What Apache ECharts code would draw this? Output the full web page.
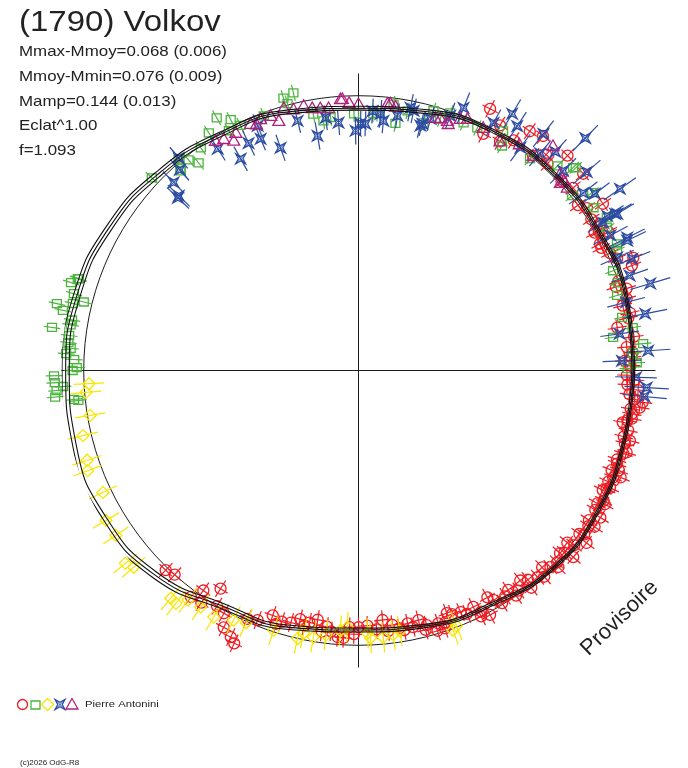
<!DOCTYPE html>
<html><head><meta charset="utf-8">
<script src="https://cdn.jsdelivr.net/npm/echarts@6/dist/echarts.min.js"></script>
<style>html,body{margin:0;padding:0;background:#fff}#c{width:688px;height:768px}</style>
</head><body><div id="c"></div><script>
// ---- data: [phase angle (deg, CCW from right), relative radius, radial error] ----
const red = [[226,1.0,.035],[228,0.99,.035],[234.8,0.97,.035],[237.7,0.93,.035],[233.5,1.015,.035],[235.9,1.01,.035],[242.3,1.045,.035],[244.4,1.065,.035],[245.5,1.08,.035],[245.9,0.98,.035],[248,0.97,.035],[250.7,0.935,.035],[253,0.946,.035],[256.8,0.92,.035],[260.7,0.91,.035],[263,0.93,.035],[265.5,0.963,.035],[266.8,0.965,.035],[268,0.925,.035],[270,0.925,.035],[275.5,0.903,.035],[277.6,0.925,.035],[281,0.928,.035],[283.5,0.925,.035],[286.9,0.98,.035],[288.5,0.98,.035],[291,0.94,.035],[290,0.93,.035],[292.9,0.945,.035],[295.9,0.947,.035],[299.6,0.94,.035],[298.3,1.0,.035],[301.7,0.985,.035],[304.3,0.957,.035],[307.6,0.955,.035],[310.9,0.985,.035],[314.3,0.99,.035],[317.8,0.98,.035],[319,1.025,.035],[320.5,0.975,.035],[322.9,1.03,.035],[325.9,1.0,.035],[328.7,1.02,.035],[330.9,0.985,.035],[333.9,0.98,.035],[335,1.0,.035],[337.2,0.995,.035],[337.8,1.02,.035],[340.2,0.99,.035],[342.6,1.0,.035],[344.7,0.995,.035],[347.5,0.995,.035],[348.9,0.97,.035],[351,0.997,.035],[352.5,1.022,.035],[353.6,1.03,.035],[355,0.98,.035],[357,0.97,.035],[359,0.967,.035],[1,0.98,.035],[2.1,0.96,.035],[3.8,0.99,.035],[9.4,0.945,.035],[13.8,0.98,.035],[17,1.01,.035],[21,1.055,.035],[22.3,1.07,.035],[23.4,1.015,.035],[26.8,0.98,.035],[27.7,0.983,.035],[30,1.0,.035],[30.3,0.985,.035],[31.3,1.018,.035],[34.3,1.066,.035],[35.4,1.01,.035],[40.4,1.015,.035],[41.2,1.076,.035],[45.8,1.08,.035],[47.6,1.01,.035],[50.9,0.997,.035],[51.8,1.075,.035],[54.4,1.06,.035],[58.3,0.97,.035],[62.2,0.964,.035],[63.3,1.055,.035],
[252,0.96,.035],[258,0.94,.035],[262,0.95,.035],[272,0.92,.035],[279,0.94,.035],[285,0.95,.035],[289,0.96,.035],[294,0.96,.035],[297,0.975,.035],[303,0.97,.035],[306,0.98,.035],[309,0.97,.035],[312,1.0,.035],[316,0.995,.035],[321,1.0,.035],[324,1.005,.035],[327,0.99,.035],[332,1.0,.035],[336,0.985,.035],[339,1.005,.035],[341,0.985,.035],[343,1.01,.035],[346,0.985,.035],[350,1.0,.035],[354,1.0,.035],[356,1.01,.035],[5,0.97,.035],[7,1.0,.035],[11,0.99,.035],[15,1.0,.035],[19,0.99,.035],[25,1.0,.035],[29,1.03,.035],[33,1.0,.035],[37,0.99,.035],[43,1.0,.035],[49,1.03,.035],[56,1.0,.035],[60,1.02,.035],[239,0.99,.035],[241,1.0,.035],
[296.5,0.99,.035],[300.5,0.96,.035],[305,0.99,.035],[308.5,1.0,.035],[313,0.97,.035],[315.5,1.01,.035],[318.5,0.99,.035],[323.5,0.99,.035],[326.5,1.02,.035],[329.5,0.99,.035],[331.5,1.01,.035],[334.5,0.99,.035],[338.5,0.98,.035],[345.5,1.01,.035],[349.5,0.985,.035],[352,0.99,.035],[358,0.995,.035],[2.8,0.985,.035],[12,1.0,.035],[18,0.975,.035],[255,0.94,.035],[259,0.925,.035],[264,0.945,.035],[269,0.95,.035],[274,0.935,.035],[276.5,0.945,.035],[280,0.95,.035],[282,0.945,.035],[284.5,0.965,.035],[287.5,0.955,.035]];

const green = [[163,1.083,.03],[161.8,1.06,.03],[164.9,1.062,.03],[166,1.02,.03],[167.5,1.113,.03],[168.5,1.087,.03],[166.8,1.057,.03],[170,1.048,.03],[172,1.115,.03],[171,1.05,.03],[173.1,1.05,.03],[174.5,1.05,.03],[175.6,1.04,.03],[176.7,1.055,.03],[177.8,1.025,.03],[179.4,1.015,.03],[180,1.03,.03],[181,1.097,.03],[182.3,1.095,.03],[183.1,1.066,.03],[183.8,1.09,.03],[185,1.097,.03],[186.1,1.015,.03],[185.8,1.03,.03],[161.9,1.064,.03],[137,1.018,.03],[130.4,1.0,.03],[131.4,0.97,.03],[131.7,0.963,.03],[128.9,0.975,.03],[127.6,0.944,.03],[125.3,0.983,.03],[122.2,1.012,.03],[119.3,1.044,.03],[117,1.014,.03],[118.4,0.982,.03],[115.7,0.98,.03],[110.4,0.979,.03],[105.4,1.018,.03],[103.2,1.027,.03],[104.9,0.995,.03],[100,0.938,.03],[98,0.908,.03],[91,0.925,.03],[86.7,0.926,.03],[96.3,0.917,.03],[85.8,0.93,.03],[82.5,0.968,.03],[81.5,0.9,.03],[79.3,0.952,.03],[73.9,0.974,.03],[70.4,0.985,.03],[67,0.969,.03],[75.3,0.922,.03],[72,0.953,.03],[63.9,0.973,.03],[58.9,1.008,.03],[57.4,0.96,.03],[51,0.982,.03],[45.8,1.028,.03],[43.4,1.064,.03],[39.3,0.995,.03],[34.7,1.03,.03],[31.6,1.05,.03],[29.9,1.033,.03],[24.9,1.027,.03],[21.4,0.985,.03],[18.7,0.987,.03],[16.2,0.97,.03],[11.4,0.969,.03],[7.4,0.925,.03],[8.9,1.0,.03],[5.4,1.03,.03],[3.6,0.99,.03],[1.6,1.003,.03],[0.4,0.97,.03],[43,1.07,.03],[37.3,1.058,.03],[26.1,1.037,.03]];

const yellow = [[182.8,0.972,.055],[184.6,0.985,.055],[189.5,0.98,.055],[193.3,1.02,.055],[198.3,1.03,.055],[200.3,1.04,.055],[205.5,1.02,.055],[210.7,1.058,.055],[214.2,1.057,.055],[219.6,1.09,.055],[221.2,1.076,.055],[230.5,1.063,.055],[231.9,1.066,.055],[233.4,1.03,.055],[236.3,1.025,.055],[239.6,1.03,.055],[243.4,1.006,.055],[246,0.995,.055],[251.9,0.985,.055],[257.2,0.99,.055],[258.2,0.967,.055],[260.4,0.975,.055],[263,0.96,.055],[266,0.94,.055],[267.5,0.925,.055],[272,0.947,.055],[272.6,0.965,.055],[275.3,0.965,.055],[277.5,0.96,.055],[279,0.95,.055],[290,0.996,.055],[291,0.985,.055]];

const blue = [[16.6,1.097,.075],[11.2,1.053,.08],[3.9,1.046,.08],[2.1,0.95,.07],[356.6,1.04,.08],[354.8,1.035,.08],[358.6,1.0,.075],[19.3,1.035,.07],[14.3,0.995,.07],[8.0,0.95,.07],[34.8,1.147,.07],[31.4,1.083,.07],[25.8,1.075,.075],[22.2,1.065,.07],[36.8,1.064,.065],[31.1,1.03,.065],[28.2,1.03,.07],[23.6,1.017,.065],[38.3,1.032,.065],[59.1,1.078,.06],[52.0,1.082,.06],[45.7,1.17,.065],[57.0,1.05,.06],[61.4,1.016,.055],[68.2,1.019,.06],[75.5,0.918,.045],[78.8,0.965,.05],[85.1,0.928,.05],[89.5,0.89,.045],[54.0,0.992,.06],[50.1,1.02,.06],[44.3,1.03,.065],[31.9,1.055,.07],[31.2,1.09,.07],[26.3,1.08,.07],[41.0,1.09,.065],[48.0,1.06,.06],[112.4,0.953,.045],[109.3,0.85,.05],[103.7,0.926,.045],[99.9,0.858,.05],[94.6,0.896,.045],[90.7,0.864,.05],[88.4,0.889,.045],[86.9,0.936,.045],[84.3,0.904,.045],[81.3,0.928,.045],[78.0,0.956,.045],[75.8,0.91,.045],[74.0,0.943,.045],[70.2,0.975,.05],[97.4,0.918,.045],[112.9,0.906,.045],[122.4,0.946,.05],[119.1,0.873,.05],[115.8,0.91,.05],[130.2,1.003,.05],[131.7,0.968,.05],[134.5,0.95,.055],[135.8,0.903,.055],[136.3,0.9,.055]];

const magenta = [[121.9,0.975,0],[120.2,0.965,0],[118.5,0.942,0],[117.3,0.964,0],[113.6,0.97,0],[112.5,0.96,0],[111.3,0.972,0],[109,0.97,0],[107.7,0.944,0],[105.9,0.983,0],[104,0.97,0],[101.7,0.974,0],[100,0.96,0],[96.5,0.952,0],[98.3,0.955,0],[93.8,0.98,0],[92,0.965,0],[90,0.96,0],[93.4,0.98,0],[83.8,0.967,0],[82,0.96,0],[73.1,0.951,0],[72,0.955,0],[70,0.945,0],[68,0.978,0],[83.2,0.969,0],[70.4,0.955,0],[66.6,0.988,0],[62.8,0.983,0],[58.3,0.97,0],[54.6,1.0,0],[49.1,1.07,0],[50.9,0.997,0],[44.3,1.015,0],[42.9,0.993,0],[42.8,1.008,0],[41.2,1.0,0]];

// fitted light curve (mean and +/- envelope), sampled every 15 degrees
const fitAngles = [0,15,30,45,60,75,90,105,120,135,150,165,180,195,210,225,240,255,270,285,300,315,330,345,360];
const fitMid = [0.99,1.0,1.0,1.0,0.99,0.965,0.945,0.965,0.985,1.01,1.035,1.05,1.055,1.065,1.065,1.04,0.98,0.958,0.935,0.952,0.97,1.0,1.0,0.99,0.99];
const fitHi  = [0.995,1.005,1.006,1.006,0.996,0.972,0.952,0.972,0.993,1.02,1.046,1.062,1.068,1.078,1.078,1.052,0.99,0.966,0.942,0.958,0.976,1.005,1.005,0.995,0.995];
const fitLo  = [0.985,0.995,0.994,0.994,0.984,0.958,0.938,0.958,0.977,1.0,1.024,1.038,1.042,1.052,1.052,1.028,0.97,0.95,0.928,0.946,0.964,0.995,0.995,0.985,0.985];
const refCircle = [0.99];

const titleText = '(1790) Volkov';
const infoLines = ['Mmax-Mmoy=0.068 (0.006)','Mmoy-Mmin=0.076 (0.009)','Mamp=0.144 (0.013)','Eclat^1.00','f=1.093'];
const observer = 'Pierre Antonini';
const copyright = '(c)2026 OdG-R8';
const watermark = 'Provisoire';

const COL = {red:'#ee1c22', green:'#4cb43e', yellow:'#f8e600', blue:'#2c4ca4', magenta:'#b0207e'};
const FONT = '"Liberation Sans", Arial, sans-serif';
const LW = 1.3;

function markerShape(kind, x, y, color) {
  const st = {fill:'none', stroke:color, lineWidth:LW};
  if (kind === 'circle') return [{type:'circle', shape:{cx:x, cy:y, r:5.5}, style:st}];
  if (kind === 'square') return [{type:'rect', shape:{x:x-4.5, y:y-4, width:9, height:8}, style:st}];
  if (kind === 'diamond') return [{type:'polygon', shape:{points:[[x,y-6],[x+6,y],[x,y+6],[x-6,y]]}, style:st}];
  if (kind === 'triangle') return [{type:'polygon', shape:{points:[[x,y-6],[x+6,y+4.5],[x-6,y+4.5]]}, style:st}];
  if (kind === 'star') {
    const s = 5, k = 0.45*s;
    return [
      {type:'polygon', shape:{points:[[x-s,y-s],[x,y-k],[x+s,y-s],[x+k,y],[x+s,y+s],[x,y+k],[x-s,y+s],[x-k,y]]}, style:st},
      {type:'line', shape:{x1:x-s,y1:y-s,x2:x+s,y2:y+s}, style:{stroke:color,lineWidth:1}},
      {type:'line', shape:{x1:x+s,y1:y-s,x2:x-s,y2:y+s}, style:{stroke:color,lineWidth:1}}
    ];
  }
  return [];
}

function pointSeries(name, data, color, kind, tick) {
  return {
    type:'custom', name, coordinateSystem:'polar', polarIndex:0, clip:false, silent:true, z:3,
    data: data.map(d => [d[1], d[0], d[2]]),
    renderItem: function (params, api) {
      const r = api.value(0), a = api.value(1), e = api.value(2);
      const p = api.coord([r, a]);
      const c = api.coord([0, a]);
      const children = [];
      if (e > 0) {
        const p1 = api.coord([r - e, a]), p2 = api.coord([r + e, a]);
        children.push({type:'line', shape:{x1:p1[0],y1:p1[1],x2:p2[0],y2:p2[1]}, style:{stroke:color,lineWidth:1.2}});
      }
      if (tick) {
        const dx = p[0]-c[0], dy = p[1]-c[1], L = Math.sqrt(dx*dx+dy*dy) || 1;
        const tx = -dy/L, ty = dx/L, h = 8.5;
        children.push({type:'line', shape:{x1:p[0]-tx*h,y1:p[1]-ty*h,x2:p[0]+tx*h,y2:p[1]+ty*h}, style:{stroke:color,lineWidth:1.2}});
      }
      return {type:'group', children: children.concat(markerShape(kind, p[0], p[1], color))};
    }
  };
}

function fitSeries(vals) {
  return {type:'line', coordinateSystem:'polar', polarIndex:0, smooth:0.5, symbol:'none', clip:false, silent:true, z:4,
    lineStyle:{color:'#111', width:1.1}, data: fitAngles.map((a,i)=>[vals[i], a])};
}

const legendItems = [
  {kind:'circle', color:COL.red, x:22.5, y:704.5},
  {kind:'square', color:COL.green, x:35.5, y:705},
  {kind:'diamond', color:COL.yellow, x:47.5, y:704.5},
  {kind:'star', color:COL.blue, x:60, y:704.5},
  {kind:'triangle', color:COL.magenta, x:72, y:704.5}
];
function legendGraphic(it) {
  const shapes = markerShape(it.kind, it.x, it.y, it.color);
  if (it.kind === 'circle') shapes[0].shape.r = 5;
  return shapes.map(s => Object.assign({}, s, {silent:true}));
}

const graphics = [];
graphics.push({type:'text', x:19, y:8, scaleX:1.10, silent:true, style:{text:titleText, font:'30px '+FONT, fill:'#222', verticalAlign:'top'}});
const infoY = [44, 69, 94, 118, 143];
infoLines.forEach((t,i) => graphics.push({type:'text', x:19, y:infoY[i], scaleX:1.165, silent:true, style:{text:t, font:'14.5px '+FONT, fill:'#222', verticalAlign:'top'}}));
legendItems.forEach(it => legendGraphic(it).forEach(g => graphics.push(g)));
graphics.push({type:'text', x:85, y:700, scaleX:1.25, silent:true, style:{text:observer, font:'9px '+FONT, fill:'#222', verticalAlign:'top'}});
graphics.push({type:'text', x:20, y:759, silent:true, style:{text:copyright, font:'8px '+FONT, fill:'#222', verticalAlign:'top'}});
graphics.push({type:'text', x:592, y:660, rotation:44*Math.PI/180, silent:true, style:{text:watermark, font:'22px '+FONT, fill:'#222', verticalAlign:'bottom'}});

const chart = echarts.init(document.getElementById('c'), null, {renderer:'canvas'});
chart.setOption({
  animation:false,
  backgroundColor:'#fff',
  polar:{center:[358.5, 370.5], radius:297},
  angleAxis:{type:'value', min:0, max:360, interval:90, startAngle:0, clockwise:false,
    axisLine:{show:false}, axisTick:{show:false}, axisLabel:{show:false},
    splitLine:{show:true, lineStyle:{color:'#1c1c1c', width:1}}},
  radiusAxis:{type:'value', min:0, max:1.07, axisLine:{show:false}, axisTick:{show:false}, axisLabel:{show:false}, splitLine:{show:false}},
  series:[
    {type:'custom', coordinateSystem:'polar', polarIndex:0, clip:false, silent:true, z:2,
      data: refCircle.map(v => [v, 0]),
      renderItem: function (params, api) {
        const p = api.coord([api.value(0), 0]), c = api.coord([0, 0]);
        const R = Math.hypot(p[0]-c[0], p[1]-c[1]);
        return {type:'circle', shape:{cx:c[0], cy:c[1], r:R}, style:{fill:'none', stroke:'#1c1c1c', lineWidth:1}};
      }},
    pointSeries('red', red, COL.red, 'circle', true),
    pointSeries('green', green, COL.green, 'square', false),
    pointSeries('yellow', yellow, COL.yellow, 'diamond', false),
    pointSeries('blue', blue, COL.blue, 'star', false),
    pointSeries('magenta', magenta, COL.magenta, 'triangle', false),
    fitSeries(fitLo), fitSeries(fitMid), fitSeries(fitHi)
  ],
  graphic: graphics
});
</script></body></html>
